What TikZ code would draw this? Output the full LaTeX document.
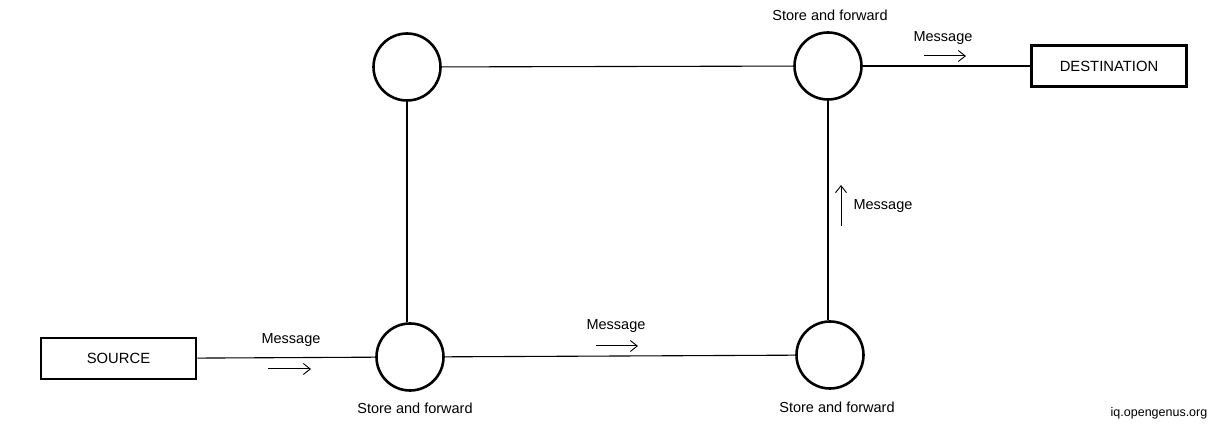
\documentclass[tikz,border=0pt]{standalone}
\usepackage{fontspec}
\setmainfont{Liberation Sans}
\usetikzlibrary{arrows.meta}
\begin{document}
\begin{tikzpicture}[x=1pt,y=-1pt,
  hub/.style={circle,draw,line width=2.6pt,minimum size=67pt,inner sep=0pt},
  endbox/.style={draw,line width=2.6pt,minimum width=155pt,minimum height=41pt,inner sep=0pt,font=\fontsize{14.8}{17}\selectfont},
  lbl/.style={font=\fontsize{14.5}{17}\selectfont,inner sep=0pt},
  credit/.style={font=\fontsize{12.5}{14}\selectfont,inner sep=0pt},
  link/.style={line width=1.1pt},
  msg/.style={-{Straight Barb[length=7pt,width=11pt,line width=0.9pt]},line width=1pt}]
\useasboundingbox (0,0) rectangle (1221,435);
% nodes
\node[endbox] (src) at (118.5,358.5) {SOURCE};
\node[hub] (bl) at (410,357) {};
\node[hub] (br) at (830,355) {};
\node[hub] (tr) at (828,66) {};
\node[hub] (tl) at (407,67) {};
\node[endbox] (dst) at (1109,66) {DESTINATION};
% links
\draw[link] (src) -- (bl);
\draw[link] (bl) -- (br);
\draw[link] (tl) -- (tr);
\draw[link] (tr) -- (dst);
\draw[link] (tl.south) -- (tl.south |- bl.north);
\draw[link] (tr.south) -- (tr.south |- br.north);
% labels
\node[lbl] (sbl) at (415,408) {Store and forward};
\node[lbl] (sbr) at (837,407) {Store and forward};
\node[lbl] (str) at (830,15) {Store and forward};
% message arrows
\coordinate (m1s) at (268,369); \coordinate (m1e) at (311,369);
\draw[msg] (m1s) -- (m1e);
\node[lbl] (m1) at (291,340) {Message};
\coordinate (m2s) at (596,346); \coordinate (m2e) at (638,346);
\draw[msg] (m2s) -- (m2e);
\node[lbl] (m2) at (616,326) {Message};
\coordinate (m3s) at (924,56); \coordinate (m3e) at (966,56);
\draw[msg] (m3s) -- (m3e);
\node[lbl] (m3) at (943,38) {Message};
\coordinate (m4s) at (841,226); \coordinate (m4e) at (841,185);
\draw[msg] (m4s) -- (m4e);
\node[lbl] (m4) at (883,206) {Message};
% credit
\node[credit] (cr) at (1159,413) {iq.opengenus.org};
\end{tikzpicture}
\end{document}
